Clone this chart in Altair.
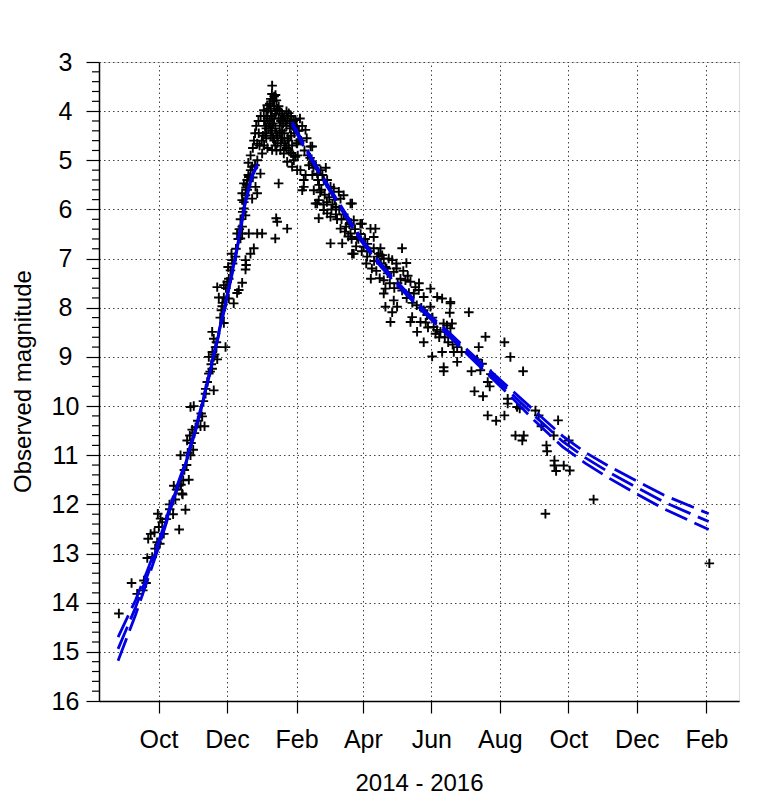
import altair as alt
import pandas as pd

# Reference day 0 = 2014-10-01; observations as (days since reference, magnitude)
REF_DATE = "2014-10-01"

rise_obs = [
    (-35.3, 14.22), (-24, 13.6), (-19, 13.82), (-11, 13.6), (-10, 13.09), (-5.6, 13.07),
    (-9.2, 12.7), (-7, 12.6), (-3.6, 12.57), (-0.6, 12.19), (1.8, 12.29), (3.3, 12.36),
    (0.3, 12.46), (-1.2, 12.77), (1.2, 12.8), (4.7, 12.6), (9.8, 12.0), (13, 12.2),
    (18.4, 12.51), (13.6, 11.62), (18, 11.62), (21, 11.78), (21.5, 11.8), (24, 12.11),
    (22, 11.51), (27, 11.5), (25, 11.2), (19.6, 11.0), (28.5, 11.0), (30.9, 10.89),
    (25.5, 10.7), (27.9, 10.6), (30, 10.48), (28.5, 10.02), (31.4, 10.0), (33, 10.43),
    (37.4, 10.41), (38.9, 10.21), (41, 10.41), (41.9, 9.75), (43.4, 9.51), (44.8, 9.34),
    (47.8, 9.24), (49.2, 9.68), (44.8, 9.0), (49.2, 9.0), (52.3, 9.05), (51.6, 8.8),
    (59.7, 8.8), (51.6, 8.7), (-14, 13.75), (-13, 13.55), (-3, 12.9), (7, 12.3),
    (10, 12.1), (15, 11.9), (16, 11.7), (20, 11.6), (23, 11.3), (26, 10.95), (29, 10.75),
    (32, 10.55), (35, 10.3), (38, 10.15), (40, 9.9), (42, 9.65), (46, 9.3), (47, 9.15),
    (50, 8.95), (48, 8.9),
]

upper_rise_obs = [
    (47.8, 8.49), (49.2, 8.63), (50.8, 8.8), (58.2, 8.31), (56.7, 7.97), (67, 7.91),
    (53.7, 7.79), (58.2, 7.79), (62.6, 7.81), (70, 7.7), (52.3, 7.58), (58.2, 7.54),
    (61.2, 7.47), (74.5, 7.49), (71.5, 7.64), (62.6, 7.41), (64.1, 7.24), (62, 7.17),
    (65.6, 7.03), (65, 6.9), (68.6, 6.96), (77.5, 7.03), (78, 7.13), (77.5, 7.22),
    (81.9, 6.9), (84.9, 6.79), (70, 6.49), (74.5, 6.49), (80.4, 6.49), (87.9, 6.49),
    (92.3, 6.49), (74.5, 6.35), (73, 6.59), (77.5, 6.12), (76, 5.98), (74.5, 5.81),
    (77.5, 5.71), (87.9, 5.67), (83.4, 5.78), (104, 6.59), (105.7, 6.25), (104.8, 6.18),
    (114.6, 6.39), (55, 8.2), (56, 8.05), (60, 7.6), (57, 7.9), (66, 7.1), (69, 6.8),
    (71, 6.6), (72, 6.4), (73, 6.2), (75, 6.05), (76, 5.85), (78, 5.55), (79, 5.4), (80, 5.3),
    (74.5, 5.67), (76, 5.47), (86.4, 5.54), (80.4, 5.34), (90.8, 5.27), (83.4, 5.13),
    (87.9, 4.66), (89.3, 4.45), (92.3, 4.86), (80, 5.05), (82, 4.9), (84, 4.75), (85, 4.6),
    (86, 4.45), (87, 4.3), (89, 4.2), (91, 4.1), (93.8, 3.98), (96.8, 3.88), (88, 5.0),
    (90, 4.7), (82, 5.2), (78.5, 5.5), (79, 5.6), (84, 5.35), (86, 5.1),
]

peak_obs = [
    (101.2, 3.48), (104.2, 3.67), (100, 3.75), (102, 3.8), (105, 3.78), (103, 3.9),
    (98, 3.95), (100, 4.0), (106, 3.95), (108, 4.0), (101, 4.1), (104, 4.05), (96, 4.1),
    (99, 4.2), (102, 4.25), (107, 4.15), (110, 4.05), (112, 4.1), (114, 4.0), (116, 4.04),
    (118, 4.1), (120, 4.2), (122, 4.18), (95, 4.3), (98, 4.35), (101, 4.4), (104, 4.35),
    (108, 4.3), (111, 4.25), (114, 4.3), (117, 4.35), (93, 4.5), (96, 4.55), (100, 4.5),
    (103, 4.6), (106, 4.5), (109, 4.6), (112, 4.45), (115, 4.55), (118, 4.5), (121, 4.45),
    (124, 4.4), (101.2, 4.79), (108.6, 4.79), (111.6, 4.86), (114.6, 5.03), (119, 5.13),
    (122, 4.93), (97, 4.75), (105, 4.8), (107, 5.47), (99, 4.25), (97, 4.15), (103, 4.15),
    (105, 4.45), (110, 4.4), (113, 4.7), (116, 4.8), (119, 4.7), (123, 4.65), (94, 4.2),
    (95, 4.45), (97, 4.0), (99, 3.85), (101, 3.65), (103, 3.7), (105, 4.0), (107, 3.9),
    (109, 4.2), (111, 4.15), (113, 4.2), (115, 4.15), (117, 4.25), (119, 4.3), (121, 4.35),
    (123, 4.3), (92, 4.6), (94, 4.7), (96, 4.35), (100, 4.3), (102, 4.55), (104, 4.7),
    (106, 4.65), (108, 4.45), (110, 4.55), (112, 4.65), (114, 4.75), (116, 4.6), (118, 4.85),
    (120, 4.9), (125, 4.6),
]

fall_obs = [
    (120.5, 4.18), (130.9, 4.38), (136.9, 4.72), (144.3, 5.2), (150.2, 5.4), (156.1, 5.57),
    (164.9, 5.71), (172.4, 5.88), (181.3, 6.29), (191.7, 6.56), (197.7, 6.79),
    (123.5, 5.2), (129.4, 5.54), (141.3, 5.88), (142.7, 6.18), (150.2, 6.08), (153.2, 6.69),
    (163.6, 6.69), (172.4, 6.9), (189.1, 7.41), (200.6, 7.71), (206.6, 8.29),
    (123.5, 4.66), (120.5, 5.0), (126.4, 5.2), (129.4, 5.4), (128, 5.61), (135.4, 4.72),
    (136.9, 5.06), (141.3, 5.27), (138.3, 5.61), (142.7, 5.81), (139.8, 5.88), (147.2, 5.4),
    (153.2, 5.54), (160.6, 5.64), (162.1, 5.78), (171, 5.88), (147.2, 6.01), (153.2, 6.15),
    (162.1, 6.39), (173.9, 6.22), (179.8, 6.29), (188.8, 6.39), (193.2, 6.39), (171, 6.49),
    (176.9, 6.56), (182.8, 6.76), (191.7, 6.79), (173.9, 6.9), (185.8, 6.96), (194.7, 6.96),
    (200.6, 7.0), (125, 4.4), (127, 4.6), (130, 4.8), (133, 4.9), (134, 5.1), (137, 5.3),
    (140, 5.1), (143, 5.5), (145, 5.6), (148, 5.7), (150, 5.85), (155, 5.9), (158, 5.95),
    (158, 6.1), (165, 6.1), (168, 6.2), (170, 6.3), (175, 6.4), (178, 6.6), (184, 6.6),
    (186, 6.7), (188, 6.85), (196, 6.9), (198, 7.1), (203, 7.2), (132, 4.55), (128, 4.3),
    (126, 4.15), (146, 5.3), (149, 5.15), (157, 5.8), (166, 6.45), (161, 6.0), (180, 6.5),
    (192, 7.05), (124, 4.9), (131, 5.3), (135, 4.95), (138, 5.15), (142, 5.4), (144, 5.65),
    (147, 5.9), (152, 5.75), (154, 6.0), (159, 6.2), (163, 6.2), (167, 6.35), (169, 6.55),
    (172, 6.6), (176, 6.75), (181, 6.85), (185, 7.1), (190, 7.2), (194, 7.25), (197, 7.4),
]

mid_obs = [
    (199.2, 6.93), (202.1, 7.17), (200.6, 7.44), (202.1, 7.61), (208.1, 7.03), (211.9, 7.1),
    (216.9, 6.79), (220.8, 7.09), (209.5, 7.27), (215.5, 7.41), (219.9, 7.44), (224.4, 7.47),
    (228.8, 7.58), (231.8, 7.64), (227.4, 7.71), (236.2, 7.78), (209.5, 7.85), (212.5, 7.98),
    (202.1, 7.98), (208.1, 8.09), (242.2, 7.61), (248.2, 7.78), (252.6, 7.81), (260, 7.88),
    (242.2, 7.98), (236.2, 8.05), (225.9, 8.19), (224.4, 8.29), (233.3, 8.29), (239.2, 8.15),
    (230.3, 8.49), (245.1, 8.39), (253.9, 8.32), (256.9, 8.36), (261.4, 8.32), (260, 8.42),
    (251.1, 8.49), (246.7, 8.53), (276.4, 8.09), (236.2, 8.7), (243.7, 8.99), (252.6, 8.9),
    (263, 8.9), (291.2, 8.59), (285.2, 8.8), (204, 7.3), (206, 7.5), (210, 7.6), (213, 7.5),
    (217, 7.65), (221, 7.8), (223, 7.7), (226, 7.9), (230, 7.95), (234, 8.0), (238, 8.3),
    (240, 8.4), (244, 8.2), (248, 8.45), (250, 8.6), (255, 8.6), (258, 8.7), (262, 8.75),
    (266, 8.8), (270, 8.9), (205, 7.0), (212, 7.2), (218, 7.25), (222, 7.35), (232, 7.5),
]

tail_obs = [
    (260, 7.91), (259.4, 8.1), (266, 9.1), (278.7, 9.29), (286.7, 9.27), (288.2, 9.14),
    (281.4, 9.7), (289, 9.8), (293.2, 9.51), (295, 9.6), (293.2, 10.19), (300.7, 10.3),
    (308.1, 10.19), (311, 9.85), (311, 9.95), (308.1, 8.7), (313.4, 9.0), (324.7, 9.29),
    (319.3, 10.02), (321.7, 10.05), (317.9, 10.6), (325.3, 10.6), (324, 10.7), (335.7, 10.09),
    (338.6, 10.19), (341, 10.41), (355.9, 10.29), (352, 10.6), (345.5, 10.8), (346.1, 10.92),
    (352.6, 11.11), (352.6, 11.21), (354.1, 11.32), (360.9, 11.21), (366.3, 11.31),
    (365.4, 10.7), (387.5, 11.9), (344.6, 12.19), (490.6, 13.2), (254, 9.21), (254, 9.29),
    (283.7, 9.05), (296, 9.35),
]

# Fitted light curve (three dashed curves), pre- and post-perihelion
fit_rise_days = [-36, -20.5, -10, 1.8, 13.6, 24, 34.5, 43.4, 52.3, 59.7, 68.6, 76, 82, 88]
fit_rise_mid = [14.94, 14.1, 13.45, 12.7, 11.85, 11.17, 10.36, 9.54, 8.66, 7.91, 6.96, 6.01, 5.4, 5.1]
fit_rise_upper = [14.70, 13.95, 13.35, 12.64, 11.81, 11.14, 10.33, 9.51, 8.63, 7.88, 6.93, 5.98, 5.37, 5.07]
fit_rise_lower = [15.18, 14.25, 13.55, 12.76, 11.89, 11.2, 10.39, 9.57, 8.69, 7.94, 6.99, 6.04, 5.43, 5.13]

fit_fall_days = [119, 130, 140, 150, 165, 180, 195, 210, 225, 240, 260, 285, 310, 335, 360, 380, 400, 423, 450, 490]
fit_fall_mid = [4.25, 4.72, 5.12, 5.5, 6.05, 6.6, 7.05, 7.45, 7.8, 8.15, 8.57, 9.12, 9.65, 10.2, 10.72, 11.05, 11.33, 11.62, 11.95, 12.35]
fit_fall_upper = [4.22, 4.69, 5.09, 5.47, 6.02, 6.57, 7.02, 7.42, 7.77, 8.12, 8.53, 9.07, 9.58, 10.1, 10.61, 10.94, 11.21, 11.49, 11.81, 12.19]
fit_fall_lower = [4.28, 4.75, 5.15, 5.53, 6.08, 6.63, 7.08, 7.48, 7.83, 8.18, 8.61, 9.17, 9.72, 10.3, 10.83, 11.16, 11.45, 11.75, 12.09, 12.51]

month_ticks = [(2014, 10), (2014, 12), (2015, 2), (2015, 4), (2015, 6), (2015, 8),
               (2015, 10), (2015, 12), (2016, 2)]
x_start = (2014, 8, 9)
x_end = (2016, 3, 1)
mag_ticks = list(range(3, 17))
minor_mag = [round(3 + 0.2 * i, 1) for i in range(66) if (i % 5) != 0]

FONT = "Liberation Sans"
ref = pd.Timestamp(REF_DATE)

def to_dates(days):
    return [ref + pd.to_timedelta(d, unit="D") for d in days]

all_obs = rise_obs + upper_rise_obs + peak_obs + fall_obs + mid_obs + tail_obs
obs_df = pd.DataFrame({
    "date": to_dates([p[0] for p in all_obs]),
    "mag": [p[1] for p in all_obs],
})

fit_rows = []
for name, days, vals in [
    ("rise_upper", fit_rise_days, fit_rise_upper),
    ("rise_mid", fit_rise_days, fit_rise_mid),
    ("rise_lower", fit_rise_days, fit_rise_lower),
    ("fall_upper", fit_fall_days, fit_fall_upper),
    ("fall_mid", fit_fall_days, fit_fall_mid),
    ("fall_lower", fit_fall_days, fit_fall_lower),
]:
    for d, v in zip(to_dates(days), vals):
        fit_rows.append({"date": d, "mag": v, "series": name})
fit_df = pd.DataFrame(fit_rows)

minor_df = pd.DataFrame({"mag": minor_mag})

x_scale = alt.Scale(domain=[alt.DateTime(year=x_start[0], month=x_start[1], date=x_start[2]),
                            alt.DateTime(year=x_end[0], month=x_end[1], date=x_end[2])])
y_scale = alt.Scale(domain=[3, 16], reverse=True, nice=False, zero=False)

x_axis = alt.Axis(
    values=[alt.DateTime(year=y, month=m, date=1) for y, m in month_ticks],
    format="%b", labelFont=FONT, labelFontSize=25, labelColor="black",
    tickSize=12, tickColor="black", tickWidth=1.2, labelPadding=14,
    labelOverlap=False, domainColor="black", domainWidth=1.5,
    grid=True, gridDash=[1.5, 3], gridColor="#444", gridWidth=1,
    titleFont=FONT, titleFontSize=24, titleFontWeight="normal", titleColor="black",
    titlePadding=19,
)
y_axis = alt.Axis(
    values=mag_ticks, labelFont=FONT, labelFontSize=25, labelColor="black",
    labelAlign="center", labelPadding=21, labelOverlap=False,
    tickSize=13, tickColor="black", tickWidth=1.2,
    domainColor="black", domainWidth=1.5,
    grid=True, gridDash=[1.5, 3], gridColor="#444", gridWidth=1,
    titleFont=FONT, titleFontSize=24, titleFontWeight="normal", titleColor="black",
    titleX=-64, titleY=319, titleAngle=-90, titleBaseline="bottom", titleAlign="center",
)

points = alt.Chart(obs_df).mark_point(
    shape="M-1,0L1,0M0,-1L0,1", filled=False, size=90, strokeWidth=1.9,
    color="black", opacity=1,
).encode(
    x=alt.X("date:T", scale=x_scale, axis=x_axis, title="2014 - 2016"),
    y=alt.Y("mag:Q", scale=y_scale, axis=y_axis, title="Observed magnitude"),
)

lines = alt.Chart(fit_df).mark_line(
    color="#0000e0", strokeWidth=2.8, strokeDash=[24, 8],
).encode(
    x=alt.X("date:T", scale=x_scale),
    y=alt.Y("mag:Q", scale=y_scale),
    detail="series:N",
)

minor_ticks = alt.Chart(minor_df).mark_rule(color="black", strokeWidth=1.2).encode(
    y=alt.Y("mag:Q", scale=y_scale),
    x=alt.value(-7),
    x2=alt.value(0),
)

chart = alt.layer(points, lines, minor_ticks).properties(
    width=640, height=639, autosize="none",
    padding={"left": 91, "top": 54, "right": 19, "bottom": 99},
).configure_view(stroke="#555", strokeWidth=1.5).configure(background="white")

chart.save("out.html", embed_options={"renderer": "svg", "actions": False})
